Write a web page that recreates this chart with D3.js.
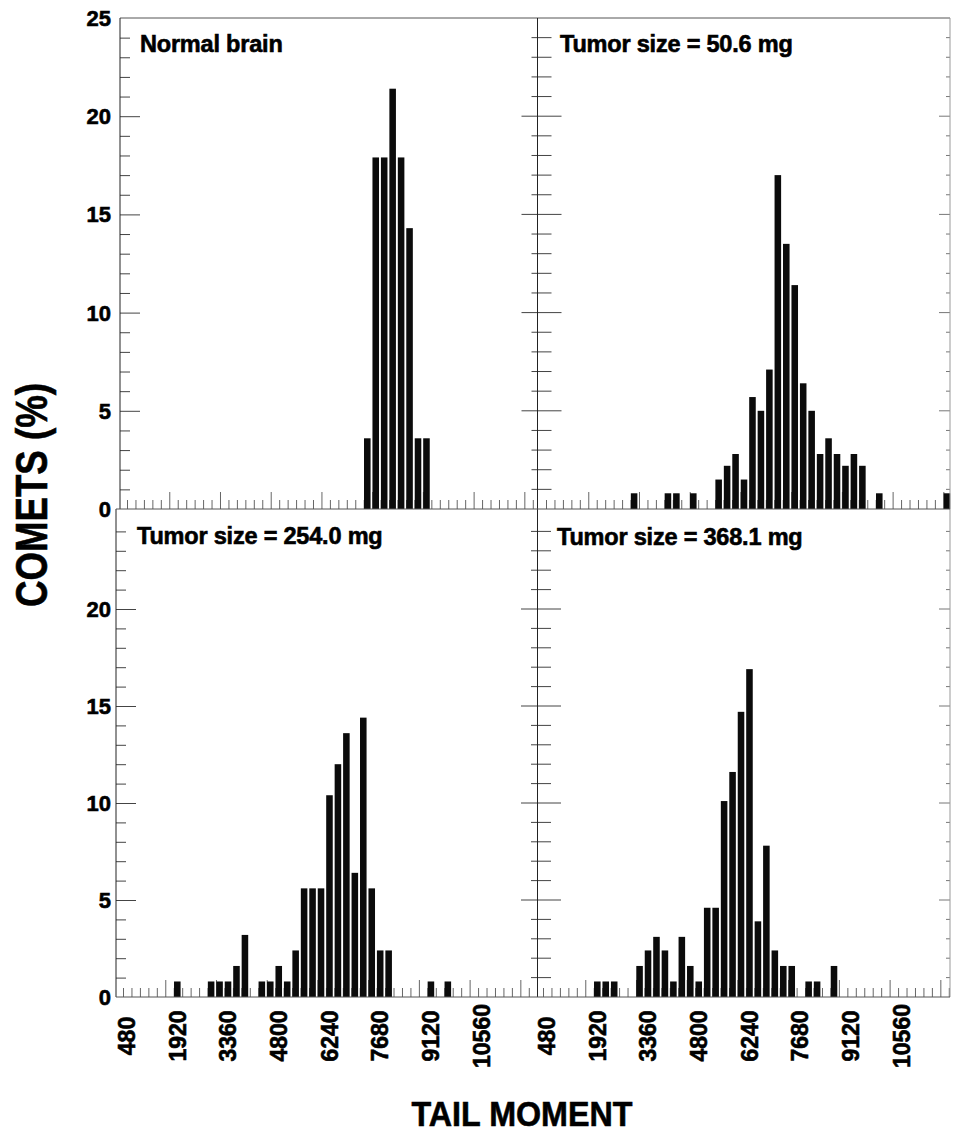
<!DOCTYPE html>
<html><head><meta charset="utf-8">
<script src="https://cdn.jsdelivr.net/npm/d3@7"></script>
<style>
html,body{margin:0;padding:0;background:#fff;}
svg{display:block;}
text{font-family:"Liberation Sans",Arial,Helvetica,sans-serif;font-weight:bold;fill:#000;}
</style></head><body>
<svg id="chart" width="953" height="1134"></svg>
<script>
// ---------------- data ----------------
const binWidth = 240;                       // tail-moment bin width
const xTickLabels = [480, 1920, 3360, 4800, 6240, 7680, 9120, 10560];
const yTickLabels = [0, 5, 10, 15, 20, 25];
const panelTitles = ["Normal brain", "Tumor size = 50.6 mg", "Tumor size = 254.0 mg", "Tumor size = 368.1 mg"];
const yTitle = "COMETS (%)";
const xTitle = "TAIL MOMENT";

// bin lower edges (tail moment) and % of comets
const normalBins   = [7200, 7440, 7680, 7920, 8160, 8400, 8640, 8880];
const normalValues = [3.6, 17.9, 17.9, 21.4, 17.9, 14.3, 3.6, 3.6];

const t50Bins   = [2880, 3840, 4080, 4560, 5280, 5520, 5760, 6000, 6240, 6480, 6720, 6960, 7200, 7440, 7680, 7920, 8160, 8400, 8640, 8880, 9120, 9360, 9840, 11760];
const t50Values = [0.8, 0.8, 0.8, 0.8, 1.5, 2.2, 2.8, 1.5, 5.7, 5.0, 7.1, 17.0, 13.5, 11.4, 6.4, 5.0, 2.8, 3.6, 2.8, 2.2, 2.8, 2.2, 0.8, 0.8];

const t254Bins   = [1920, 2880, 3120, 3360, 3600, 3840, 4320, 4560, 4800, 5040, 5280, 5520, 5760, 6000, 6240, 6480, 6720, 6960, 7200, 7440, 7680, 7920, 9120, 9600];
const t254Values = [0.8, 0.8, 0.8, 0.8, 1.6, 3.2, 0.8, 0.8, 1.6, 0.8, 2.4, 5.6, 5.6, 5.6, 10.4, 12.0, 13.6, 6.4, 14.4, 5.6, 2.4, 2.4, 0.8, 0.8];

const t368Bins   = [1920, 2160, 2400, 3120, 3360, 3600, 3840, 4080, 4320, 4560, 4800, 5040, 5280, 5520, 5760, 6000, 6240, 6480, 6720, 6960, 7200, 7440, 7920, 8160, 8640];
const t368Values = [0.8, 0.8, 0.8, 1.6, 2.4, 3.1, 2.4, 0.8, 3.1, 1.6, 0.8, 4.6, 4.6, 10.1, 11.6, 14.7, 16.9, 3.9, 7.8, 2.4, 1.6, 1.6, 0.8, 0.8, 1.6];

// ---------------- layout ----------------
const svg = d3.select("#chart");
const binPx = 8.454;
const xMin = 480, xMax = 12000;
const nBins = (xMax - xMin) / binWidth;

const panels = [
  {bins: normalBins, vals: normalValues, title: panelTitles[0], left: 120, right: 537.5, base: 509, yTopPx: 18, x0: 127, col: 0, row: 0, tx: 140, ty: 52},
  {bins: t50Bins,    vals: t50Values,    title: panelTitles[1], left: 537.5, right: 950, base: 509, yTopPx: 18, x0: 546, col: 1, row: 0, tx: 560, ty: 52},
  {bins: t254Bins,   vals: t254Values,   title: panelTitles[2], left: 116, right: 537.5, base: 997, yTopPx: 512, x0: 123, col: 0, row: 1, tx: 137, ty: 544},
  {bins: t368Bins,   vals: t368Values,   title: panelTitles[3], left: 537, right: 950, base: 997, yTopPx: 512, x0: 543, col: 1, row: 1, tx: 557, ty: 545}
];

const tickColor = "#666";
const edges = d3.range(xMin, xMax + 1, binWidth);

panels.forEach(p => {
  const x = d3.scaleLinear().domain([xMin, xMax]).range([p.x0, p.x0 + nBins * binPx]);
  const y = d3.scaleLinear().domain([0, 25]).range([p.base, p.yTopPx]);
  const g = svg.append("g");

  // x ticks (upward from baseline)
  const inside = edges.filter(v => x(v) > p.left + 1 && x(v) < p.right - 0.5);
  const isMajor = v => ((v - xMin) / binWidth) % 6 === 5;
  const minorAx = g.append("g").attr("transform", `translate(0,${p.base})`)
    .call(d3.axisBottom(x).tickValues(inside.filter(v => !isMajor(v))).tickSizeInner(-9).tickSizeOuter(0).tickFormat(""));
  const majorAx = g.append("g").attr("transform", `translate(0,${p.base})`)
    .call(d3.axisBottom(x).tickValues(inside.filter(isMajor)).tickSizeInner(-17).tickSizeOuter(0).tickFormat(""));
  [minorAx, majorAx].forEach(a => { a.select(".domain").remove(); a.selectAll("line").attr("stroke", tickColor).attr("stroke-width", 1); });

  // y ticks
  const yVals = d3.range(1, 25);
  if (p.col === 0) {
    const ym = g.append("g").attr("transform", `translate(${p.left},0)`)
      .call(d3.axisLeft(y).tickValues(yVals.filter(v => v % 5 !== 0)).tickSizeInner(-10).tickSizeOuter(0).tickFormat(""));
    const yM = g.append("g").attr("transform", `translate(${p.left},0)`)
      .call(d3.axisLeft(y).tickValues(yVals.filter(v => v % 5 === 0)).tickSizeInner(-20).tickSizeOuter(0).tickFormat(""));
    [ym, yM].forEach(a => { a.select(".domain").remove(); a.selectAll("line").attr("stroke", "#444"); });
  } else {
    // crossing ticks on the shared boundary
    g.append("g").selectAll("line").data(yVals).join("line")
      .attr("x1", v => p.left - (v % 5 === 0 ? 16 : 6))
      .attr("x2", v => p.left + (v % 5 === 0 ? 24 : 14))
      .attr("y1", v => y(v)).attr("y2", v => y(v))
      .attr("stroke", "#444");
    // right edge ticks
    g.append("g").selectAll("line").data(yVals).join("line")
      .attr("x1", v => p.right - (v % 5 === 0 ? 11 : 4))
      .attr("x2", p.right)
      .attr("y1", v => y(v)).attr("y2", v => y(v))
      .attr("stroke", "#777");
  }

  // bars
  g.append("g").selectAll("rect").data(p.bins.map((b, i) => ({b, v: p.vals[i]}))).join("rect")
    .attr("x", d => x(d.b) + 0.3)
    .attr("width", d => x(d.b + binWidth) - x(d.b) - 1.9)
    .attr("y", d => y(d.v))
    .attr("height", d => y(0) - y(d.v))
    .attr("fill", "#0b0b0b");

  // title
  g.append("text").attr("x", p.tx).attr("y", p.ty)
    .attr("font-size", "23.5px").attr("letter-spacing", "-0.2px")
    .attr("stroke", "#000").attr("stroke-width", 0.6).text(p.title);

  // y labels (left column only)
  if (p.col === 0) {
    const labs = yTickLabels.filter(v => p.row === 0 || v < 25);
    g.append("g").selectAll("text").data(labs).join("text")
      .attr("x", 111).attr("y", v => y(v)).attr("dy", "0.36em")
      .attr("text-anchor", "end").attr("font-size", "22px")
      .attr("stroke", "#000").attr("stroke-width", 0.6).text(v => v);
  }

  // x labels (bottom row)
  if (p.row === 1) {
    const lab = g.append("g").attr("transform", `translate(0,${p.base})`)
      .call(d3.axisBottom(x).tickValues(xTickLabels).tickSize(0).tickFormat(d => d));
    lab.select(".domain").remove();
    lab.selectAll("text")
      .attr("y", 0).attr("dy", "0.36em")
      .attr("transform", "translate(3,39) rotate(-90)")
      .attr("text-anchor", "middle")
      .attr("font-size", "23px")
      .attr("font-family", '"Liberation Sans",Arial,sans-serif')
      .attr("font-weight", "bold")
      .attr("fill", "#000")
      .attr("stroke", "#000").attr("stroke-width", 0.6);
  }
});

// frame lines
const frame = svg.append("g").attr("fill", "none");
frame.append("line").attr("x1", 120).attr("x2", 950).attr("y1", 18).attr("y2", 18).attr("stroke", "#555");
frame.append("line").attr("x1", 120).attr("x2", 120).attr("y1", 18).attr("y2", 509).attr("stroke", "#222");
frame.append("line").attr("x1", 116).attr("x2", 116).attr("y1", 509).attr("y2", 997).attr("stroke", "#222");
frame.append("line").attr("x1", 537.5).attr("x2", 537.5).attr("y1", 18).attr("y2", 997).attr("stroke", "#222");
frame.append("line").attr("x1", 950).attr("x2", 950).attr("y1", 18).attr("y2", 997).attr("stroke", "#999");
frame.append("line").attr("x1", 116).attr("x2", 950).attr("y1", 509).attr("y2", 509).attr("stroke", "#555");
frame.append("line").attr("x1", 116).attr("x2", 950).attr("y1", 997).attr("y2", 997).attr("stroke", "#555");

// axis titles
svg.append("text").attr("transform", "translate(47,495) rotate(-90)")
  .attr("text-anchor", "middle").attr("font-size", "44px")
  .attr("stroke", "#000").attr("stroke-width", 0.6)
  .attr("textLength", 224).attr("lengthAdjust", "spacingAndGlyphs").text(yTitle);
svg.append("text").attr("x", 522).attr("y", 1126)
  .attr("text-anchor", "middle").attr("font-size", "35px")
  .attr("stroke", "#000").attr("stroke-width", 0.6)
  .attr("textLength", 221).attr("lengthAdjust", "spacingAndGlyphs").text(xTitle);
</script>
</body></html>
